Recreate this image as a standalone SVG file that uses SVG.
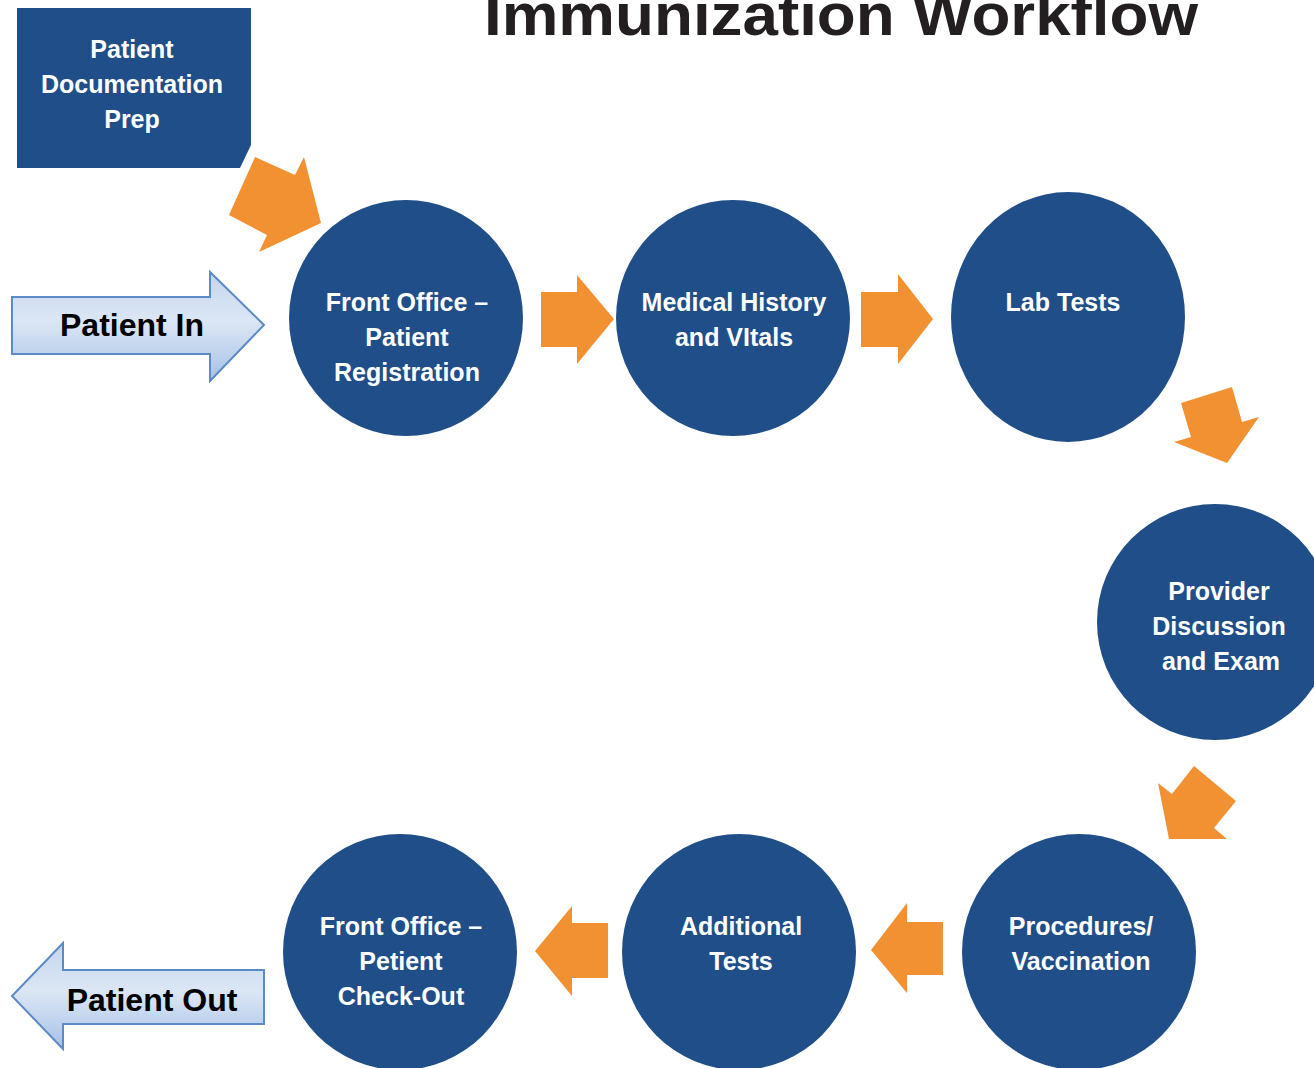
<svg xmlns="http://www.w3.org/2000/svg" width="1314" height="1068" viewBox="0 0 1314 1068">
<style>
.node{fill:#204e88}
.lbl{font-family:"Liberation Sans",Arial,sans-serif;font-weight:bold;font-size:25px;fill:#ffffff;text-anchor:middle}
.big{font-family:"Liberation Sans",Arial,sans-serif;font-weight:bold;font-size:32px;fill:#000000;text-anchor:middle}
.org{fill:#f19132}
.blue{fill:url(#bg);stroke:#5b8ac6;stroke-width:2}
</style>
<defs>
<linearGradient id="bg" x1="0" y1="0" x2="0" y2="1">
<stop offset="0" stop-color="#c3d5ee"/>
<stop offset="0.45" stop-color="#dce7f5"/>
<stop offset="1" stop-color="#a5c1e6"/>
</linearGradient>
</defs>
<rect width="1314" height="1068" fill="#ffffff"/>
<text x="841" y="35" font-family="Liberation Sans,Arial,sans-serif" font-weight="bold" font-size="60" fill="#231f20" text-anchor="middle" textLength="714" lengthAdjust="spacingAndGlyphs">Immunization Workflow</text>

<g id="connectors">
<polygon class="org" points="255,157 295,175 304,157 321,223 259,252 267,235 229,215"/>
<polygon class="org" points="541,292 577,292 577,275 614,319 577,364 577,347 541,347"/>
<polygon class="org" points="861,292 898,292 898,274 933,319 898,364 898,347 861,347"/>
<polygon class="org" points="1181,403 1232,387 1242,422 1259,417 1227,463 1174,442 1191,437"/>
<polygon class="org" points="1194,766 1236,801 1214,828 1227,839 1169,839 1158,783 1172,794"/>
<polygon class="org" points="943,922 907,922 907,903 871,950 907,993 907,975 943,975"/>
<polygon class="org" points="608,923 572,923 572,906 535,951 572,996 572,978 608,978"/>
</g>

<g id="patient-in">
<polygon class="blue" points="12,297 210,297 210,272 264,325 210,381 210,354 12,354"/>
<text class="big" x="132" y="336">Patient In</text>
</g>

<g id="patient-out">
<polygon class="blue" points="264,970 63,970 63,943 12,996 63,1049 63,1024 264,1024"/>
<text class="big" x="152" y="1011">Patient Out</text>
</g>

<g id="doc-prep">
<polygon class="node" points="17,8 251,8 251,145 240,168 17,168"/>
<text class="lbl" x="132" y="58">Patient</text>
<text class="lbl" x="132" y="93">Documentation</text>
<text class="lbl" x="132" y="128">Prep</text>
</g>

<g id="front-office-registration">
<ellipse class="node" cx="406" cy="318" rx="117" ry="118"/>
<text class="lbl" x="407" y="311">Front Office –</text>
<text class="lbl" x="407" y="346">Patient</text>
<text class="lbl" x="407" y="381">Registration</text>
</g>

<g id="medical-history">
<ellipse class="node" cx="733" cy="318" rx="117" ry="118"/>
<text class="lbl" x="734" y="311">Medical History</text>
<text class="lbl" x="734" y="346">and VItals</text>
</g>

<g id="lab-tests">
<ellipse class="node" cx="1068" cy="317" rx="117" ry="125"/>
<text class="lbl" x="1063" y="311">Lab Tests</text>
</g>

<g id="provider-discussion">
<ellipse class="node" cx="1215" cy="622" rx="118" ry="118"/>
<text class="lbl" x="1219" y="600">Provider</text>
<text class="lbl" x="1219" y="635">Discussion</text>
<text class="lbl" x="1221" y="670">and Exam</text>
</g>

<g id="procedures-vaccination">
<ellipse class="node" cx="1079" cy="952" rx="117" ry="118"/>
<text class="lbl" x="1081" y="935">Procedures/</text>
<text class="lbl" x="1081" y="970">Vaccination</text>
</g>

<g id="additional-tests">
<ellipse class="node" cx="739" cy="952" rx="117" ry="118"/>
<text class="lbl" x="741" y="935">Additional</text>
<text class="lbl" x="741" y="970">Tests</text>
</g>

<g id="front-office-checkout">
<ellipse class="node" cx="400" cy="952" rx="117" ry="118"/>
<text class="lbl" x="401" y="935">Front Office –</text>
<text class="lbl" x="401" y="970">Petient</text>
<text class="lbl" x="401" y="1005">Check-Out</text>
</g>
</svg>
